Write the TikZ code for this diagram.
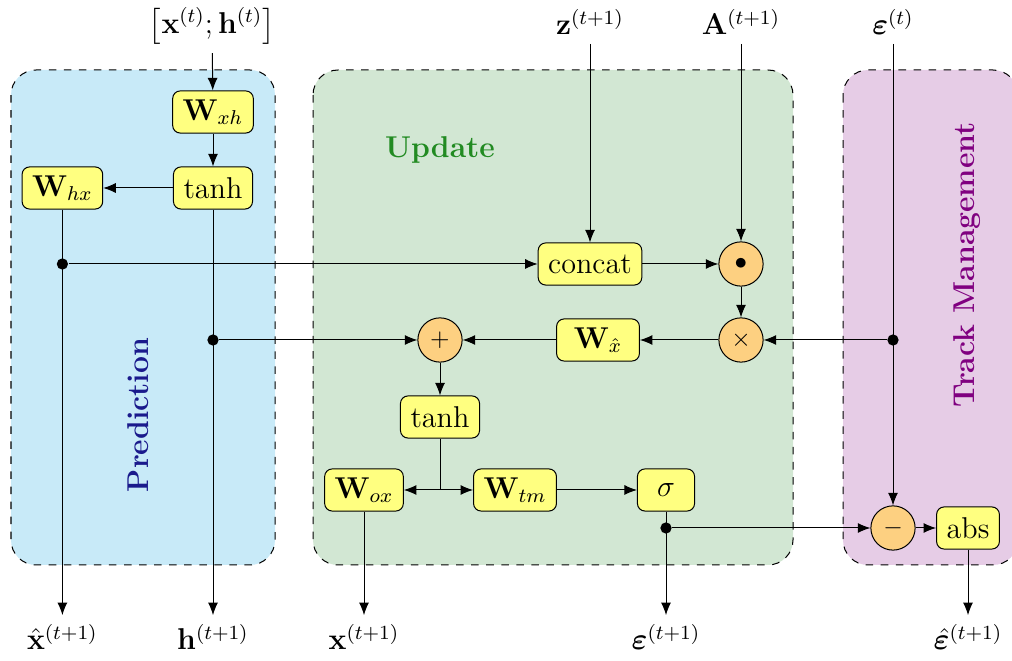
\documentclass[tikz,border=0pt]{standalone}
\usepackage{amsmath,bm}
\usetikzlibrary{arrows.meta}
\definecolor{PredBg}{HTML}{C8EAF8}
\definecolor{UpdBg}{HTML}{D2E7D3}
\definecolor{TrackBg}{HTML}{E6CCE6}
\definecolor{BoxFill}{HTML}{FFFF80}
\definecolor{OpFill}{HTML}{FDD081}
\definecolor{PredInk}{HTML}{1A1A8C}
\definecolor{UpdInk}{HTML}{228B22}
\definecolor{TrackInk}{HTML}{800080}

\begin{document}
\begin{tikzpicture}[x=0.014cm, y=-0.014cm,
    panel/.style={draw, dashed, rounded corners=10pt, thin},
    blk/.style={draw, fill=BoxFill, rounded corners=3pt, minimum height=0.59cm,
      minimum width=0.8cm, inner xsep=4pt, font=\large},
    op/.style={draw, fill=OpFill, circle, minimum size=0.62cm, inner sep=0pt},
    lbl/.style={font=\large},
    arr/.style={-{Latex[length=5pt,width=4pt]}},
    jn/.style={circle, fill, inner sep=0pt, minimum size=4.5pt}]
  \useasboundingbox (0,0) rectangle (1012,661);
  % panels
  \begin{scope}
    \clip (0,0) rectangle (1012,661);
    \filldraw[panel, fill=PredBg]  (11,70)  rectangle (275,565);
    \filldraw[panel, fill=UpdBg]   (313,70) rectangle (793,565);
    \filldraw[panel, fill=TrackBg] (843,70) rectangle (1018,565);
  \end{scope}
  \node[font=\large\bfseries, text=UpdInk] (tupd) at (440,150) {Update};
  \node[font=\large\bfseries, text=PredInk, rotate=90] (tpred) at (138,415) {Prediction};
  \node[font=\large\bfseries, text=TrackInk, rotate=90] (ttrack) at (967,265) {Track Management};
  % inputs
  \node[lbl] (in)  at (212,26)  {$\left[\mathbf{x}^{(t)};\mathbf{h}^{(t)}\right]$};
  \node[lbl] (z)   at (590,22)  {$\mathbf{z}^{(t+1)}$};
  \node[lbl] (A)   at (741,22)  {$\mathbf{A}^{(t+1)}$};
  \node[lbl] (eps) at (893,22)  {$\boldsymbol{\varepsilon}^{(t)}$};
  % prediction
  \node[blk] (wxh) at (213,112) {$\mathbf{W}_{xh}$};
  \node[blk] (th1) at (213,188) {tanh};
  \node[blk] (whx) at (62.4,188)  {$\mathbf{W}_{hx}$};
  \node[jn]  (j1)  at (62.4,264)  {};
  \node[jn]  (j2)  at (213,340) {};
  % update
  \node[blk] (cat)   at (590,264) {concat};
  \node[op]  (odot)  at (741,264) {$\bullet$};
  \node[op]  (times) at (741,340) {$\times$};
  \node[blk, minimum width=1.16cm] (wxhat) at (598,340) {$\mathbf{W}_{\hat{x}}$};
  \node[op]  (plus)  at (440,340) {$+$};
  \node[blk] (th2)   at (440,417) {tanh};
  \coordinate (j5) at (440,490);
  \node[blk] (wox)   at (364,490) {$\mathbf{W}_{ox}$};
  \node[blk] (wtm)   at (515,490) {$\mathbf{W}_{tm}$};
  \node[blk] (sig)   at (666,490) {$\sigma$};
  \node[jn]  (j4)    at (666,528) {};
  % track management
  \node[jn]  (j3)    at (893,340) {};
  \node[op]  (minus) at (893,528) {$-$};
  \node[blk] (abs)   at (968,528) {abs};
  % outputs
  \node[lbl] (xhat) at (62.4,637)  {$\hat{\mathbf{x}}^{(t+1)}$};
  \node[lbl] (hout) at (213,637) {$\mathbf{h}^{(t+1)}$};
  \node[lbl] (xout) at (364,637) {$\mathbf{x}^{(t+1)}$};
  \node[lbl] (eout) at (666,637) {$\boldsymbol{\varepsilon}^{(t+1)}$};
  \node[lbl] (ehat) at (968,637) {$\hat{\boldsymbol{\varepsilon}}^{(t+1)}$};
  % connectors
  \draw[arr] (in) -- (wxh);
  \draw[arr] (wxh) -- (th1);
  \draw[arr] (th1) -- (whx);
  \draw[arr] (whx) -- (xhat);
  \draw[arr] (th1) -- (hout);
  \draw[arr] (j1) -- (cat);
  \draw[arr] (j2) -- (plus);
  \draw[arr] (z) -- (cat);
  \draw[arr] (A) -- (odot);
  \draw[arr] (cat) -- (odot);
  \draw[arr] (odot) -- (times);
  \draw[arr] (j3) -- (times);
  \draw[arr] (times) -- (wxhat);
  \draw[arr] (wxhat) -- (plus);
  \draw[arr] (plus) -- (th2);
  \draw (th2) -- (j5);
  \draw[arr] (j5) -- (wox);
  \draw[arr] (j5) -- (wtm);
  \draw[arr] (wtm) -- (sig);
  \draw[arr] (sig) -- (eout);
  \draw[arr] (wox) -- (xout);
  \draw[arr] (eps) -- (minus);
  \draw[arr] (j4) -- (minus);
  \draw[arr] (minus) -- (abs);
  \draw[arr] (abs) -- (ehat);
\end{tikzpicture}
\end{document}
